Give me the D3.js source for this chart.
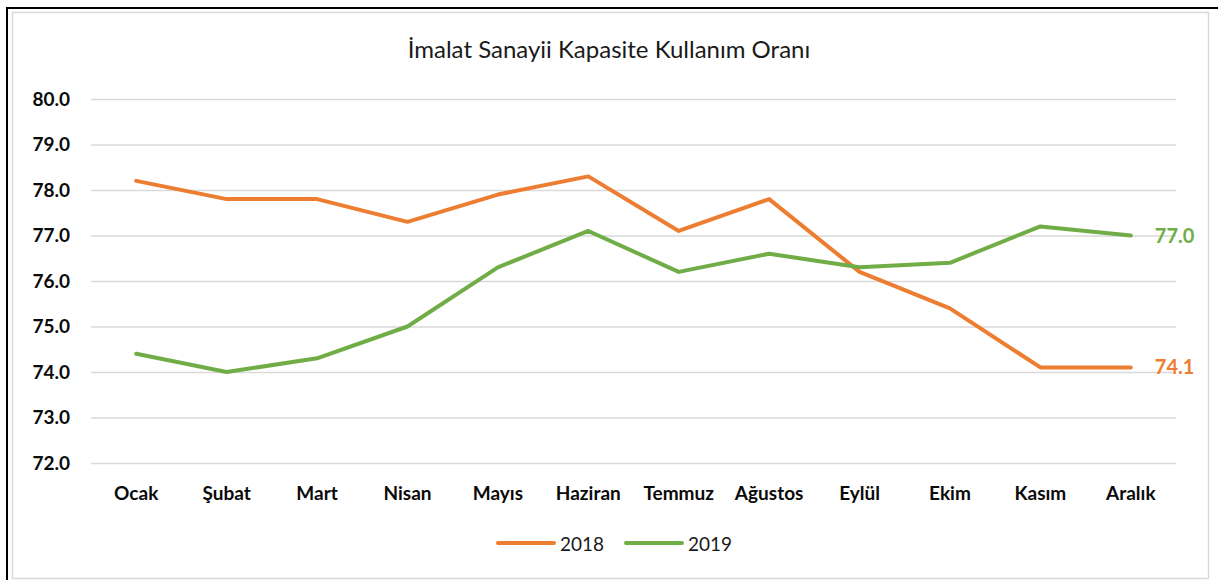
<!DOCTYPE html>
<html><head><meta charset="utf-8">
<script src="https://cdn.jsdelivr.net/npm/d3@7"></script>
<style>html,body{margin:0;padding:0;background:#fff;}svg{display:block;}</style>
</head><body>
<svg id="chart" width="1218" height="580"></svg>
<script>
const categories = ["Ocak","Şubat","Mart","Nisan","Mayıs","Haziran","Temmuz","Ağustos","Eylül","Ekim","Kasım","Aralık"];
const values2018 = [78.2,77.8,77.8,77.3,77.9,78.3,77.1,77.8,76.2,75.4,74.1,74.1];
const values2019 = [74.4,74.0,74.3,75.0,76.3,77.1,76.2,76.6,76.3,76.4,77.2,77.0];
const yTicks = [72,73,74,75,76,77,78,79,80];
const seriesNames = ["2018","2019"];
const colors = ["#ED7D31","#70AD47"];
const title = "İmalat Sanayii Kapasite Kullanım Oranı";

const font = "Lato, 'Open Sans', sans-serif";
const svg = d3.select("#chart");

// frame
svg.append("rect").attr("x",12.5).attr("y",12.5).attr("width",1196).attr("height",566)
  .attr("fill","#fff").attr("stroke","#d9d9d9").attr("stroke-width",1.5);
svg.append("line").attr("x1",7).attr("x2",1218).attr("y1",8).attr("y2",8).attr("stroke","#000").attr("stroke-width",2);
svg.append("line").attr("x1",7).attr("x2",7).attr("y1",7).attr("y2",580).attr("stroke","#000").attr("stroke-width",2);

const x = d3.scaleBand().domain(categories).range([91,1176]);
const y = d3.scaleLinear().domain([72,80]).range([463,99]);

svg.append("text").attr("x",609).attr("y",58).attr("text-anchor","middle")
  .attr("font-family",font).attr("font-size",24).attr("fill","#1a1a1a").text(title);

// grid
const grid = svg.append("g").attr("transform","translate(91,0)")
  .call(d3.axisLeft(y).tickValues(yTicks).tickSize(-1085).tickFormat(""));
grid.select(".domain").remove();
grid.selectAll("line").attr("stroke","#d9d9d9").attr("stroke-width",1.5);

// y axis labels
const ya = svg.append("g").attr("transform","translate(70,0)")
  .call(d3.axisLeft(y).tickValues(yTicks).tickSize(0).tickFormat(d3.format(".1f")));
ya.select(".domain").remove();
ya.selectAll("text").attr("font-family",font).attr("font-size",19).attr("font-weight","bold").attr("fill","#0a0a0a").attr("x",0);

// x axis labels
const xa = svg.append("g").attr("transform","translate(0,483)")
  .call(d3.axisBottom(x).tickSize(0));
xa.select(".domain").remove();
xa.selectAll("text").attr("font-family",font).attr("font-size",19).attr("font-weight","bold").attr("fill","#0a0a0a").attr("dy","0.71em");

const line = d3.line().x((d,i)=>x(categories[i])+x.bandwidth()/2).y(d=>y(d));
[values2018,values2019].forEach((vals,k)=>{
  svg.append("path").datum(vals).attr("d",line).attr("fill","none")
    .attr("stroke",colors[k]).attr("stroke-width",4).attr("stroke-linejoin","round").attr("stroke-linecap","round");
  const last = vals.length-1;
  svg.append("text").attr("x",x(categories[last])+x.bandwidth()/2+24).attr("y",y(vals[last]))
    .attr("dy","0.35em").attr("font-family",font).attr("font-size",20).attr("font-weight","bold")
    .attr("fill",colors[k]).text(d3.format(".1f")(vals[last]));
});

// legend
const legendX = [498,626];
seriesNames.forEach((n,k)=>{
  svg.append("line").attr("x1",legendX[k]).attr("x2",legendX[k]+56).attr("y1",543).attr("y2",543)
    .attr("stroke",colors[k]).attr("stroke-width",4).attr("stroke-linecap","round");
  svg.append("text").attr("x",legendX[k]+62).attr("y",544).attr("dy","0.35em")
    .attr("font-family",font).attr("font-size",19).attr("fill","#1a1a1a").text(n);
});
</script>
</body></html>
